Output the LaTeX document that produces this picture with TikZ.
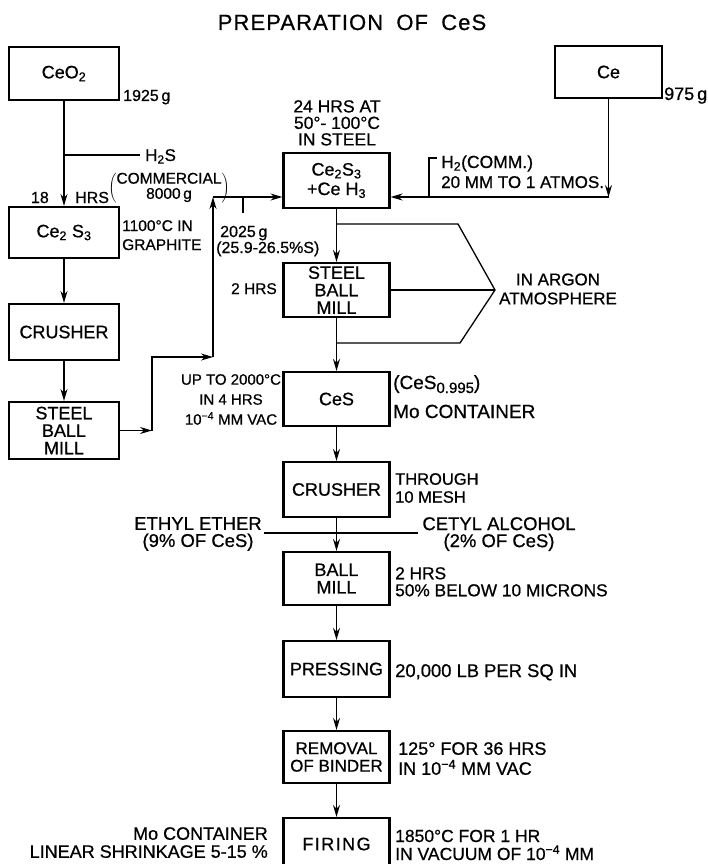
\documentclass[tikz,border=0pt]{standalone}
\usepackage{fontspec}
\setmainfont{Liberation Sans}[FakeBold=0.7]
\usepackage{tikz}
\usetikzlibrary{arrows.meta}
\newcommand{\lo}[1]{\textsubscript{#1}}
\newcommand{\mfour}{\textsuperscript{\char"2212 4}}
\newcommand{\fsz}[2]{\fontsize{#1}{#2}\selectfont}

\begin{document}
\begin{tikzpicture}[x=1pt, y=-1pt,
  box/.style={draw, line width=2.1pt, minimum width=106pt, minimum height=54pt, inner sep=0pt, align=center, font=\fsz{18}{17.5}},
  lbl/.style={inner sep=0pt, font=\fsz{18}{19}},
  flow/.style={line width=1.3pt, -{Stealth[length=12pt, width=7pt]}},
  line/.style={line width=1.3pt}]
  \useasboundingbox (0,0) rectangle (708,864);
  \clip (0,0) rectangle (708,864);

  \node[lbl, font=\fsz{22}{24}\addfontfeature{LetterSpace=5}, anchor=base] (title) at (352,30) {PREPARATION\hspace{0.6em}OF\hspace{0.6em}CeS};

  % left column
  \node[box, minimum width=110pt, minimum height=53pt] (ceo) at (64,73.5) {CeO\lo{2}};
  \node[box, minimum width=110pt, minimum height=51pt] (cess) at (64,232.5) {Ce\lo{2} S\lo{3}};
  \node[box, minimum width=110pt, minimum height=56pt] (crushA) at (64,332) {CRUSHER};
  \node[box, minimum width=110pt, minimum height=57pt] (millA) at (64,430.5) {STEEL\\BALL\\MILL};
  \node[box, minimum width=107pt, minimum height=52pt] (ce) at (608.5,72) {Ce};

  % main column
  \node[box, minimum height=55pt, font=\fsz{18}{19.5}] (mix) at (336.5,180.5) {Ce\lo{2}S\lo{3}\\+Ce H\lo{3}};
  \node[box] (millB) at (336.5,290) {STEEL\\BALL\\MILL};
  \node[box] (ces) at (336.5,399) {CeS};
  \node[box, minimum height=55pt] (crushB) at (336.5,489.5) {CRUSHER};
  \node[box, minimum height=53pt] (ball) at (336.5,578.5) {BALL\\MILL};
  \node[box, minimum height=56pt] (press) at (336.5,669) {PRESSING};
  \node[box, minimum height=52pt, font=\fsz{17}{17.5}] (binder) at (336.5,757) {REMOVAL\\OF BINDER};
  \node[box, minimum height=52pt, font=\fsz{18}{17.5}\addfontfeature{LetterSpace=8}] (firing) at (336.5,844) {FIRING};

  \coordinate (hs) at (64,155);
  \coordinate (hsend) at (140,155);
  \coordinate (ja) at (152,430.5);
  \coordinate (jb) at (213,357);
  \coordinate (jc) at (213,197);
  \coordinate (tk) at (243,197);
  \coordinate (jd) at (608.5,197);
  \coordinate (te) at (429,197);
  \coordinate (bt) at (495,290);
  \coordinate (ee) at (264,533);
  \coordinate (ca) at (418,533);

  \draw[flow] (ceo) -- (cess);
  \draw[line] (hs) -- (hsend);
  \draw[flow] (cess) -- (crushA);
  \draw[flow] (crushA) -- (millA);
  \draw[flow] (millA) -- (ja);
  \draw[flow] (ja) |- (jb);
  \draw[flow] (jb) -- (jc);
  \draw[flow] (jc) -- (jc -| mix.west);
  \draw[line] (tk) -- ++(0,16);
  \draw[flow] (ce) -- (jd);
  \draw[flow] (jd) -- (jd -| mix.east);
  \draw[line] (te) |- ++(8,-39);
  \draw[flow] (mix) -- (millB);
  \draw[flow] (millB) -- (ces);
  \draw[flow] (ces) -- (crushB);
  \draw[flow] (crushB) -- (ball);
  \draw[flow] (ball) -- (press);
  \draw[flow] (press) -- (binder);
  \draw[flow] (binder) -- (firing);
  \draw[line] (336.5,224) -- (458,224) -- (bt) -- (460,343) -- (336.5,343);
  \draw[line] (millB) -- (bt);
  \draw[line] (ee) -- (ca);

  % side notes
  \node[lbl, font=\fsz{16}{19}, anchor=base west] (wceo) at (123,101) {1925\,g};
  \node[lbl, anchor=base west] (wce) at (664,100) {975\,g};
  \node[lbl, font=\fsz{17}{19}, anchor=base west] (hts) at (145,161) {H\lo{2}S};
  \node[lbl, font=\fsz{15.5}{14.5}] (comm) at (169,188) {$\left(\begin{tabular}{@{}c@{}}COMMERCIAL\\8000\,g\end{tabular}\right)$};
  \node[lbl, font=\fsz{16}{19}, anchor=base east] (hrsA) at (49,203) {18};
  \node[lbl, font=\fsz{16}{19}, anchor=base west] (hrsB) at (75,203) {HRS};
  \node[lbl, anchor=north west, align=left, font=\fsz{15.5}{19}] (graph) at (122,220) {1100°C IN\\GRAPHITE};
  \node[lbl, anchor=north, align=center, font=\fsz{17.5}{16.5}] (steel) at (337,100) {24 HRS AT\\50°- 100°C\\IN STEEL};
  \node[lbl, font=\fsz{17.5}{19}, anchor=base west] (htwo) at (441,168) {H\lo{2}(COMM.)};
  \node[lbl, font=\fsz{17}{19}, anchor=base west] (atm) at (441,188) {20 MM TO 1 ATMOS.};
  \node[lbl, font=\fsz{16}{19}, anchor=base west] (wmix) at (220,237) {2025\,g};
  \node[lbl, font=\fsz{16}{19}, anchor=base west] (sper) at (216,253) {(25.9-26.5\%S)};
  \node[lbl, font=\fsz{15.5}{19}, anchor=base east] (hrsC) at (277,294) {2 HRS};
  \node[lbl, align=center, font=\fsz{17}{19}] (argon) at (558,289) {IN ARGON\\ATMOSPHERE};
  \node[lbl, anchor=north, align=center, font=\fsz{15}{20}] (vac) at (231,374) {UP TO 2000°C\\IN 4 HRS\\10\mfour{} MM VAC};
  \node[lbl, font=\fsz{19}{19}, anchor=base west] (stoich) at (393,389) {(CeS\raisebox{-4pt}{\fsz{15}{15}0.995})};
  \node[lbl, font=\fsz{19}{19}, anchor=base west] (moA) at (393,418) {Mo CONTAINER};
  \node[lbl, anchor=north west, align=left, font=\fsz{16.5}{18}] (mesh) at (395,473) {THROUGH\\10 MESH};
  \node[lbl, anchor=north, align=center, font=\fsz{18.5}{17}] (ether) at (198,517) {ETHYL ETHER\\(9\% OF CeS)};
  \node[lbl, anchor=north, align=center, font=\fsz{18.5}{17}] (cetyl) at (499,517) {CETYL ALCOHOL\\(2\% OF CeS)};
  \node[lbl, anchor=north west, align=left, font=\fsz{17.3}{17}] (micron) at (395,567) {2 HRS\\50\% BELOW 10 MICRONS};
  \node[lbl, font=\fsz{18.4}{19}, anchor=base west] (psi) at (395,677) {20,000 LB PER SQ IN};
  \node[lbl, anchor=north west, align=left, font=\fsz{18}{20}] (dry) at (398,742) {125° FOR 36 HRS\\IN 10\mfour{} MM VAC};
  \node[lbl, font=\fsz{17.5}{19}, anchor=base west] (fireA) at (395,842) {1850°C FOR 1 HR};
  \node[lbl, font=\fsz{17.5}{19}, anchor=base west] (fireB) at (395,860) {IN VACUUM OF 10\mfour{} MM};
  \node[lbl, anchor=north east, align=right, font=\fsz{18}{18}] (moB) at (268,827) {Mo CONTAINER\\LINEAR SHRINKAGE 5-15 \%};
\end{tikzpicture}
\end{document}
